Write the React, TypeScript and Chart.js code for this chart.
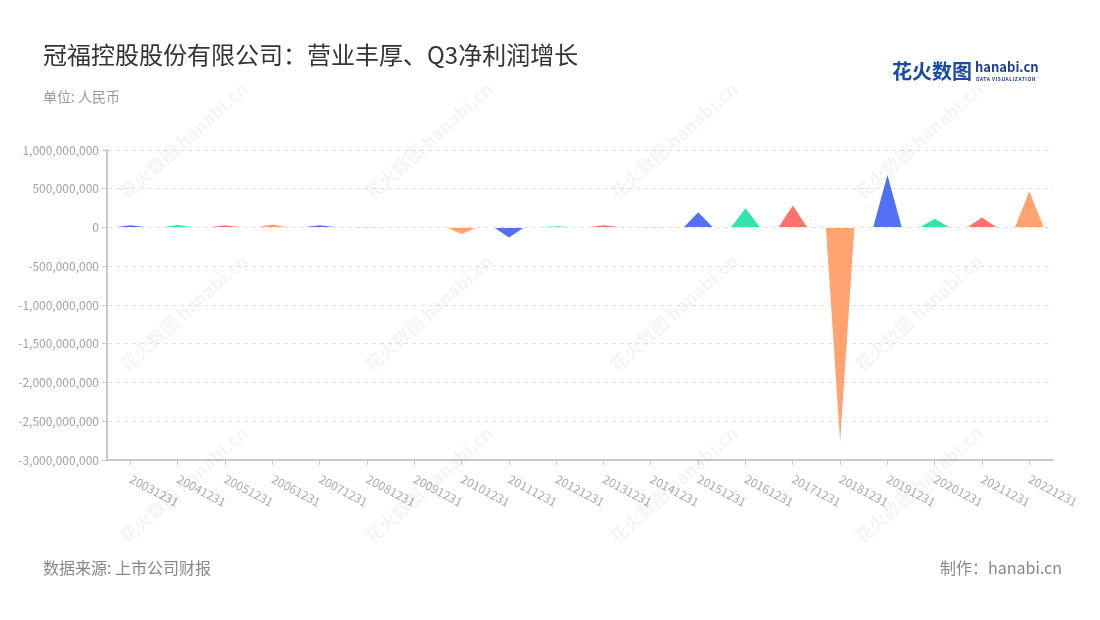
import React, { useEffect, useRef } from 'react';
import { Chart, registerables } from 'chart.js';

Chart.register(...registerables);

const categories = [
  '20031231', '20041231', '20051231', '20061231', '20071231',
  '20081231', '20091231', '20101231', '20111231', '20121231',
  '20131231', '20141231', '20151231', '20161231', '20171231',
  '20181231', '20191231', '20201231', '20211231', '20221231',
];

const profitValues = [
  30000000, 33000000, 30000000, 40000000, 28000000,
  3000000, 6000000, -83000000, -128000000, 17000000,
  28000000, 4000000, 198000000, 249000000, 284000000,
  -2765000000, 676000000, 112000000, 129000000, 469000000,
];

const palette = ['#5470f2', '#33e3ad', '#ff736b', '#ffa370'];

const yMin = -3000000000;
const yMax = 1000000000;
const yStep = 500000000;

const FONT = '"Noto Sans CJK SC", "Noto Sans", "Open Sans", sans-serif';

const trianglePlugin = {
  id: 'triangles',
  afterDatasetsDraw(chart: any) {
    const meta = chart.getDatasetMeta(0);
    const ctx = chart.ctx;
    ctx.save();
    meta.data.forEach((bar: any, i: number) => {
      const { x, y, base, width } = bar.getProps(['x', 'y', 'base', 'width'], true);
      ctx.beginPath();
      ctx.moveTo(x - width / 2, base);
      ctx.lineTo(x, y);
      ctx.lineTo(x + width / 2, base);
      ctx.closePath();
      ctx.fillStyle = palette[i % palette.length];
      ctx.fill();
    });
    ctx.restore();
  },
};

const xLabelPlugin = {
  id: 'xlabels',
  afterDraw(chart: any) {
    const xs = chart.scales.x;
    const ctx = chart.ctx;
    const yPos = chart.chartArea.bottom + 18;
    ctx.save();
    ctx.font = `12px ${FONT}`;
    ctx.fillStyle = '#a8acba';
    ctx.textAlign = 'left';
    ctx.textBaseline = 'middle';
    categories.forEach((c, i) => {
      const px = xs.getPixelForValue(i);
      ctx.save();
      ctx.translate(px, yPos);
      ctx.rotate((28 * Math.PI) / 180);
      ctx.fillText(c, 0, 0);
      ctx.restore();
    });
    ctx.restore();
  },
};

const wmCenters: Array<[number, number]> = [];
[140, 312, 484].forEach((y) => {
  [183, 428, 673, 918].forEach((x) => wmCenters.push([x, y]));
});

export default function App() {
  const canvasRef = useRef<HTMLCanvasElement | null>(null);

  useEffect(() => {
    if (!canvasRef.current) return;
    const chart = new Chart(canvasRef.current, {
      type: 'bar',
      data: {
        labels: categories,
        datasets: [
          {
            data: profitValues,
            backgroundColor: 'rgba(0,0,0,0)',
            borderWidth: 0,
            barPercentage: 0.6,
            categoryPercentage: 1,
          },
        ],
      },
      options: {
        animation: false,
        responsive: false,
        devicePixelRatio: 1,
        layout: { padding: { top: 150, left: 0, right: 47, bottom: 0 } },
        plugins: {
          legend: { display: false },
          tooltip: { enabled: false },
          title: { display: false },
        },
        scales: {
          x: {
            offset: true,
            afterFit: (scale: any) => {
              scale.height = 160;
            },
            grid: {
              display: true,
              drawOnChartArea: false,
              offset: false,
              tickLength: 5,
              color: '#c8c8c8',
              tickColor: '#c8c8c8',
            },
            border: { display: true, color: '#c8c8c8', width: 2 },
            ticks: { display: false },
          },
          y: {
            min: yMin,
            max: yMax,
            afterFit: (scale: any) => {
              scale.width = 107;
            },
            grid: {
              color: '#e2e2e2',
              tickColor: '#c8c8c8',
              tickLength: 5,
              lineWidth: 1,
            },
            border: { display: true, color: '#c8c8c8', width: 2, dash: [4, 4] },
            ticks: {
              stepSize: yStep,
              padding: 3,
              color: '#a3a3a3',
              font: { size: 12, family: FONT },
              callback: (v: any) => Number(v).toLocaleString('en-US'),
            },
          },
        },
      },
      plugins: [trianglePlugin, xLabelPlugin],
    });
    return () => chart.destroy();
  }, []);

  return (
    <div
      style={{
        position: 'fixed',
        left: 0,
        top: 0,
        width: 1100,
        height: 620,
        background: '#ffffff',
        fontFamily: FONT,
        overflow: 'hidden',
      }}
    >
      <canvas
        ref={canvasRef}
        width={1100}
        height={620}
        style={{ position: 'absolute', left: 0, top: 0, width: 1100, height: 620 }}
      />
      <div
        style={{
          position: 'absolute',
          left: 43,
          top: 38,
          fontSize: 24,
          lineHeight: '32px',
          color: '#333333',
          whiteSpace: 'nowrap',
        }}
      >
        冠福控股股份有限公司：营业丰厚、Q3净利润增长
      </div>
      <div
        style={{
          position: 'absolute',
          left: 43,
          top: 86,
          fontSize: 14,
          lineHeight: '20px',
          color: '#9a9a9a',
        }}
      >
        单位: 人民币
      </div>
      <div
        style={{
          position: 'absolute',
          left: 892,
          top: 58,
          fontSize: 20,
          lineHeight: '26px',
          fontWeight: 700,
          color: '#1a4aa3',
          whiteSpace: 'nowrap',
        }}
      >
        花火数图
      </div>
      <div
        style={{
          position: 'absolute',
          left: 975,
          top: 59,
          fontSize: 13,
          lineHeight: '16px',
          fontWeight: 700,
          color: '#1d3f95',
          whiteSpace: 'nowrap',
        }}
      >
        hanabi.cn
      </div>
      <div
        style={{
          position: 'absolute',
          left: 976,
          top: 76,
          fontSize: 5,
          lineHeight: '6px',
          fontWeight: 700,
          color: '#1d3f95',
          letterSpacing: 0.5,
          whiteSpace: 'nowrap',
        }}
      >
        DATA VISUALIZATION
      </div>
      {wmCenters.map(([x, y], i) => (
        <div
          key={i}
          style={{
            position: 'absolute',
            left: x - 100,
            top: y - 12,
            width: 200,
            height: 24,
            textAlign: 'center',
            transform: 'rotate(-42deg)',
            color: 'rgba(0,0,0,0.045)',
            fontSize: 18,
            lineHeight: '24px',
            fontWeight: 700,
            whiteSpace: 'nowrap',
            pointerEvents: 'none',
          }}
        >
          花火数图 hanabi.cn
        </div>
      ))}
      <div
        style={{
          position: 'absolute',
          left: 43,
          top: 555,
          fontSize: 16,
          lineHeight: '24px',
          color: '#888888',
          whiteSpace: 'nowrap',
        }}
      >
        数据来源: 上市公司财报
      </div>
      <div
        style={{
          position: 'absolute',
          right: 38,
          top: 555,
          fontSize: 16,
          lineHeight: '24px',
          color: '#888888',
          whiteSpace: 'nowrap',
        }}
      >
        制作：hanabi.cn
      </div>
    </div>
  );
}
